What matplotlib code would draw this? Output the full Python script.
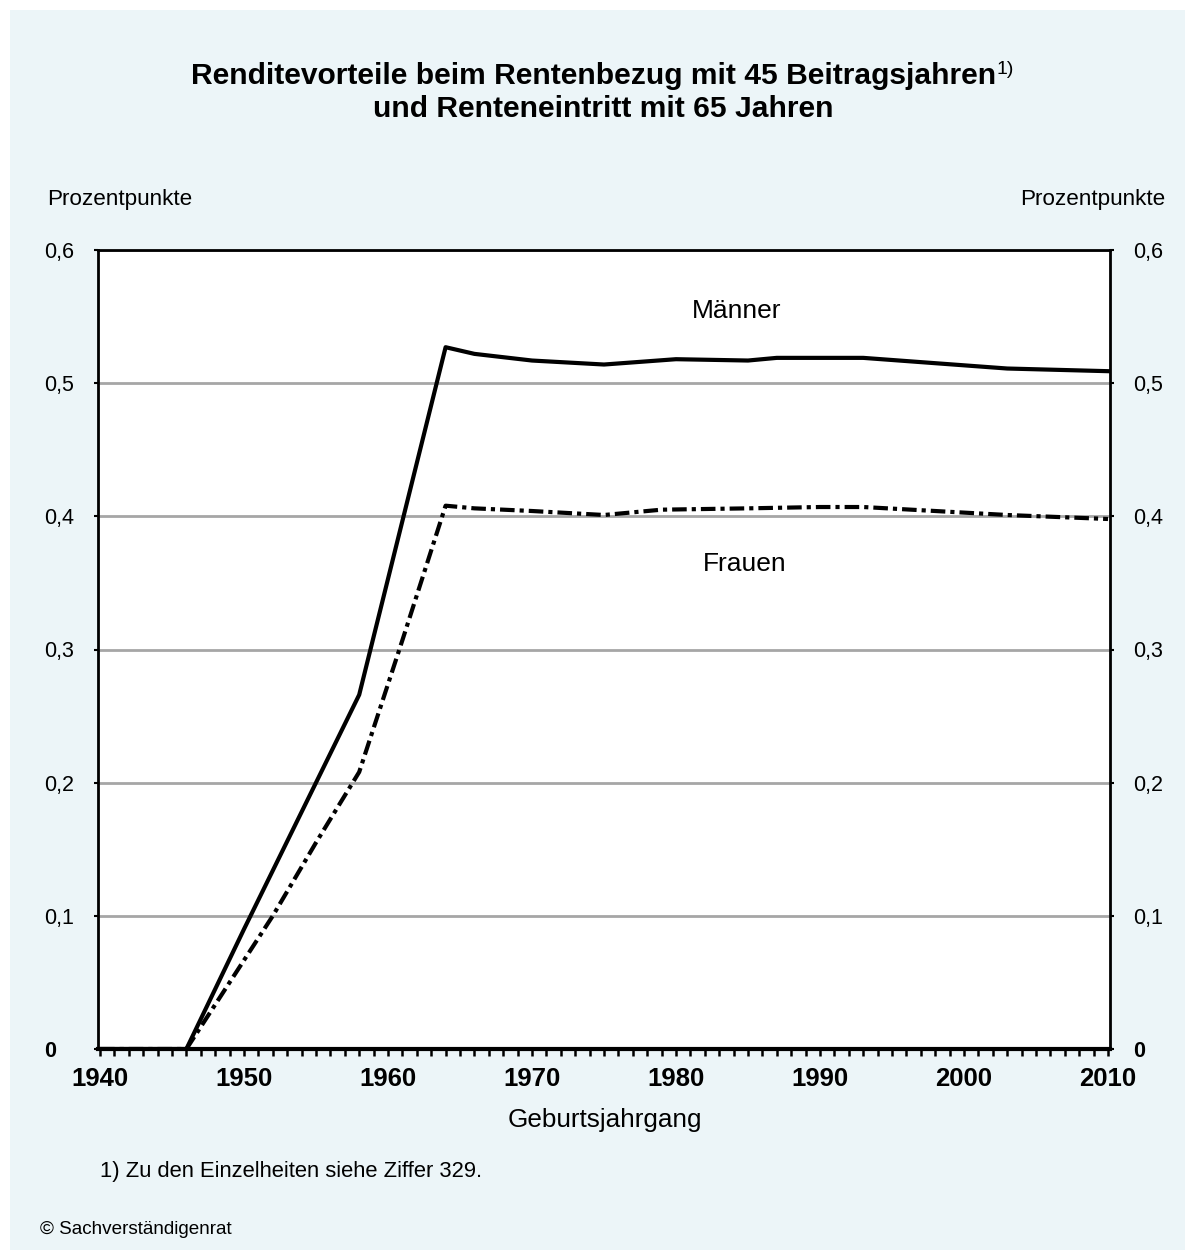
import matplotlib.pyplot as plt
from matplotlib.patches import Rectangle
from matplotlib.ticker import MultipleLocator

plt.rcParams['font.family'] = ['Liberation Sans', 'DejaVu Sans']

# Geburtsjahrgang / Renditevorteil in Prozentpunkten
maenner_jahre = [1940, 1946, 1950, 1955, 1956, 1958, 1964, 1966, 1970, 1975,
                 1980, 1985, 1987, 1993, 1998, 2003, 2010]
maenner_werte = [0.0, 0.0, 0.09, 0.2, 0.222, 0.266, 0.527, 0.522, 0.517, 0.514,
                 0.518, 0.517, 0.519, 0.519, 0.515, 0.511, 0.509]

frauen_jahre = [1940, 1946, 1952, 1955, 1958, 1961, 1964, 1966, 1970, 1975,
                1979, 1985, 1990, 1993, 1998, 2003, 2010]
frauen_werte = [0.0, 0.0, 0.1, 0.155, 0.208, 0.307, 0.408, 0.406, 0.404, 0.401,
                0.405, 0.406, 0.407, 0.407, 0.404, 0.401, 0.398]

y_ticks = [0, 0.1, 0.2, 0.3, 0.4, 0.5, 0.6]
y_labels = ['0', '0,1', '0,2', '0,3', '0,4', '0,5', '0,6']
x_ticks = [1940, 1950, 1960, 1970, 1980, 1990, 2000, 2010]

W, H = 1185, 1250
fig = plt.figure(figsize=(W / 100, H / 100), dpi=100)
fig.patch.set_facecolor('white')
fig.patches.append(Rectangle((10 / W, 0), 1 - 10 / W, 1 - 10 / H,
                             transform=fig.transFigure, facecolor='#ECF5F8',
                             edgecolor='none', zorder=-10))

ax = fig.add_axes([98 / W, 1 - 1049 / H, (1110 - 98) / W, (1049 - 250) / H])
ax.set_facecolor('white')

ax.plot(maenner_jahre, maenner_werte, color='black', lw=3, zorder=4)
ax.plot(frauen_jahre, frauen_werte, color='black', lw=3,
        dashes=(3.5, 1.2, 1.0, 1.2), dash_capstyle='butt', zorder=4)

ax.set_xlim(1940 - 2 / 14.4, 2010 + 2 / 14.4)
ax.set_ylim(0, 0.6)
ax.set_yticks(y_ticks)
ax.set_yticklabels(y_labels, fontsize=15.5)
for lbl in ax.get_yticklabels():
    lbl.set_ha('left')
ax.get_yticklabels()[0].set_fontweight('bold')
ax.grid(axis='y', color='#A6A6A6', lw=2)
ax.set_axisbelow(True)

ax.set_xticks(x_ticks)
ax.set_xticklabels([str(x) for x in x_ticks], fontsize=18.5, fontweight='bold')
ax.xaxis.set_minor_locator(MultipleLocator(1))
ax.tick_params(axis='x', which='both', direction='out', length=5, width=1.8, pad=8)
ax.tick_params(axis='y', direction='out', length=3, width=1.5, pad=36)

for side in ['left', 'right', 'top']:
    ax.spines[side].set_linewidth(2)
ax.spines['bottom'].set_linewidth(3)

ax2 = ax.twinx()
ax2.set_ylim(0, 0.6)
ax2.set_yticks(y_ticks)
ax2.set_yticklabels(y_labels, fontsize=15.5)
ax2.get_yticklabels()[0].set_fontweight('bold')
ax2.tick_params(axis='y', direction='out', length=3, width=1.5, pad=14)
for side in ['left', 'right', 'top', 'bottom']:
    ax2.spines[side].set_visible(False)

ax.text(1984.2, 0.554, 'Männer', fontsize=19, ha='center', va='center')
ax.text(1984.8, 0.364, 'Frauen', fontsize=19, ha='center', va='center')

fig.text(47 / W, 1 - 200 / H, 'Prozentpunkte', fontsize=16.2, ha='left', va='center')
fig.text(1165 / W, 1 - 200 / H, 'Prozentpunkte', fontsize=16.2, ha='right', va='center')
fig.text(605 / W, 1 - 1120 / H, 'Geburtsjahrgang', fontsize=18.8, ha='center',
         va='center')
fig.text(100 / W, 1 - 1172 / H, '1) Zu den Einzelheiten siehe Ziffer 329.',
         fontsize=15.8, ha='left', va='center')
fig.text(40 / W, 1 - 1230 / H, '© Sachverständigenrat', fontsize=13.6,
         ha='left', va='center')

fig.text(594 / W, 1 - 76 / H, 'Renditevorteile beim Rentenbezug mit 45 Beitragsjahren',
         fontsize=21.6, fontweight='bold', ha='center', va='center')
fig.text(997 / W, 1 - 69 / H, '1)', fontsize=14, ha='left', va='center')
fig.text(603 / W, 1 - 109 / H, 'und Renteneintritt mit 65 Jahren',
         fontsize=21.6, fontweight='bold', ha='center', va='center')

fig.savefig('out.png', dpi=100)
